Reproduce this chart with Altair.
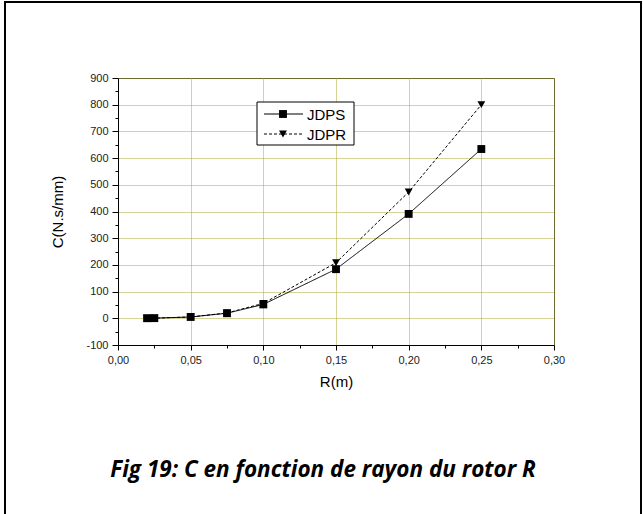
import altair as alt
import pandas as pd

# Rotor radius R (m) and damping coefficient C (N.s/mm) for the two bearing types
radius = [0.02, 0.025, 0.05, 0.075, 0.10, 0.15, 0.20, 0.25]
c_jdps = [0.3, 0.6, 5, 19, 52, 184, 391, 634]
c_jdpr = [0.3, 0.6, 5, 20, 56, 208, 473, 800]
series_names = ["JDPS", "JDPR"]

x_ticks = [round(i * 0.025, 3) for i in range(13)]
y_ticks = list(range(-100, 901, 50))

caption = "Fig 19: C en fonction de rayon du rotor R"

df = pd.DataFrame({
    "R": radius * 2,
    "C": c_jdps + c_jdpr,
    "serie": [series_names[0]] * len(radius) + [series_names[1]] * len(radius),
})

W, H = 436, 267
LEFT, TOP = 118, 78

grid_col = "#aaa62a"
axis_font = "Liberation Sans"

x_major_test = "abs(datum.value*20 - round(datum.value*20)) < 0.001"
y_major_test = "datum.value % 100 == 0"

x_scale = alt.Scale(domain=[0, 0.30], nice=False, zero=False)
y_scale = alt.Scale(domain=[-100, 900], nice=False, zero=False)

x_axis = alt.Axis(
    values=x_ticks,
    title="R(m)",
    titleFont=axis_font, titleFontSize=15, titleFontWeight="normal", titlePadding=9,
    labelFont=axis_font, labelFontSize=11, labelColor="#222", labelPadding=4,
    labelExpr=f"{x_major_test} ? replace(format(datum.value, '.2f'), '.', ',') : ''",
    labelFlush=False, labelOverlap=False,
    tickColor="black", domainColor="black",
    tickSize={"condition": {"test": x_major_test, "value": 5}, "value": 3},
    grid=True, gridColor=grid_col, gridDash=[1, 1], gridWidth=1,
    gridOpacity={"condition": {"test": x_major_test, "value": 1}, "value": 0},
)
y_axis = alt.Axis(
    values=y_ticks,
    title="C(N.s/mm)",
    titleFont=axis_font, titleFontSize=15, titleFontWeight="normal", titlePadding=20,
    labelFont=axis_font, labelFontSize=11, labelColor="#222", labelPadding=4,
    labelExpr=f"{y_major_test} ? '' + datum.value : ''",
    labelFlush=False, labelOverlap=False,
    tickColor="black", domainColor="black",
    tickSize={"condition": {"test": y_major_test, "value": 6}, "value": 3},
    grid=True, gridColor=grid_col, gridDash=[1, 1], gridWidth=1,
    gridOpacity={"condition": {"test": y_major_test, "value": 1}, "value": 0},
)

base = alt.Chart(df)

lines = base.mark_line(color="black", strokeWidth=1).encode(
    x=alt.X("R:Q", scale=x_scale, axis=x_axis),
    y=alt.Y("C:Q", scale=y_scale, axis=y_axis),
    strokeDash=alt.StrokeDash(
        "serie:N",
        scale=alt.Scale(domain=series_names, range=[[1, 0], [3, 2]]),
        legend=None,
    ),
    detail="serie:N",
)

points = base.mark_point(filled=True, color="black", opacity=1).encode(
    x=alt.X("R:Q", scale=x_scale, axis=x_axis),
    y=alt.Y("C:Q", scale=y_scale, axis=y_axis),
    shape=alt.Shape(
        "serie:N",
        scale=alt.Scale(domain=series_names, range=["square", "triangle-down"]),
        legend=None,
    ),
    size=alt.value(62),
)

# Legend box drawn inside the plot area
leg_df = pd.DataFrame({"serie": series_names})
leg_x0, leg_y0 = 139, 24
leg_box = alt.Chart(alt.Data(values=[{}])).mark_rect(
    fill="white", stroke="black", strokeWidth=1
).encode(
    x=alt.value(leg_x0), x2=alt.value(leg_x0 + 97),
    y=alt.value(leg_y0), y2=alt.value(leg_y0 + 43),
)

leg_layers = [leg_box]
for i, name in enumerate(series_names):
    yy = leg_y0 + 12 + i * 20
    one = alt.Chart(leg_df).transform_filter(alt.datum.serie == name)
    leg_layers.append(
        one.mark_rule(color="black", strokeWidth=1, strokeDash=[1, 0] if i == 0 else [3, 2]).encode(
            x=alt.value(leg_x0 + 7), x2=alt.value(leg_x0 + 46), y=alt.value(yy), y2=alt.value(yy)
        )
    )
    leg_layers.append(
        one.mark_point(filled=True, color="black", opacity=1,
                       shape="square" if i == 0 else "triangle-down").encode(
            x=alt.value(leg_x0 + 26), y=alt.value(yy), size=alt.value(62)
        )
    )
    leg_layers.append(
        one.mark_text(align="left", baseline="middle", font=axis_font, fontSize=15, color="black").encode(
            x=alt.value(leg_x0 + 50), y=alt.value(yy + 1), text="serie:N"
        )
    )

# Page frame and figure caption
frame = alt.Chart(alt.Data(values=[{}])).mark_rect(
    fill="transparent", stroke="black", strokeWidth=2
).encode(
    x=alt.value(5 - LEFT), x2=alt.value(641 - LEFT),
    y=alt.value(2 - TOP), y2=alt.value(560 - TOP),
)

caption_mark = alt.Chart(alt.Data(values=[{"t": caption}])).mark_text(
    font="Open Sans", fontSize=22.5, fontStyle="italic", fontWeight="bold", color="black",
    align="center", baseline="alphabetic",
).encode(
    x=alt.value(323 - LEFT), y=alt.value(477 - TOP), text="t:N"
)

chart = alt.layer(
    lines, points, *leg_layers, frame, caption_mark
).properties(
    width=W, height=H,
    autosize=alt.AutoSizeParams(type="none"),
    padding={"left": LEFT, "top": TOP, "right": 643 - LEFT - W, "bottom": 514 - TOP - H},
    background="white",
).configure_view(
    stroke="#333", strokeWidth=1,
).configure_axis(
    labelOverlap=False,
)

chart.save("out.html", embed_options={"renderer": "svg", "actions": False})
